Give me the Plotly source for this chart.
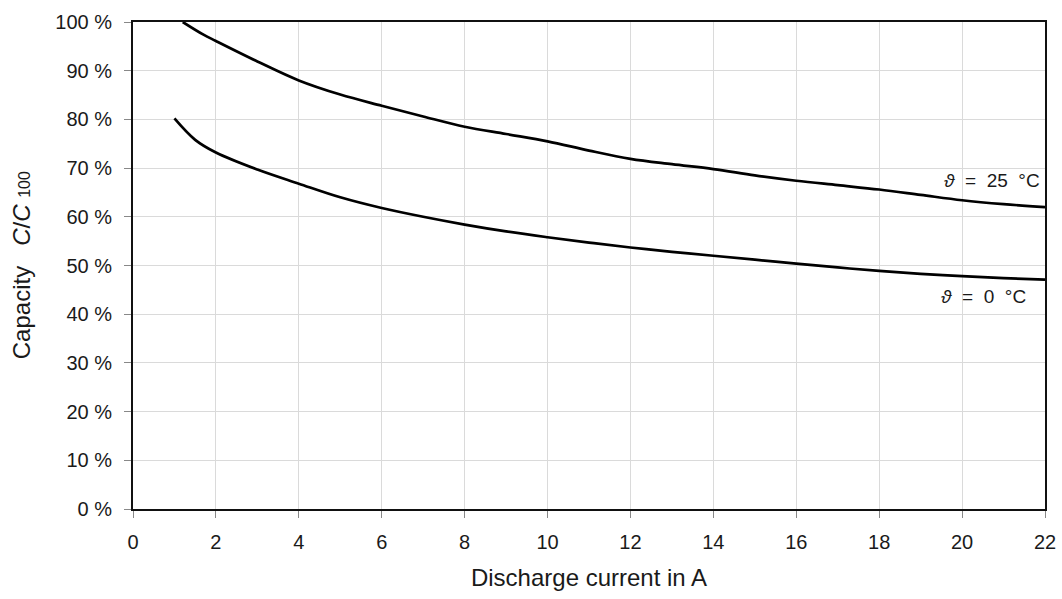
import plotly.graph_objects as go

# Data
current_25 = [1.2, 1.7, 2, 3, 4, 5, 6, 7, 8, 9, 10, 11, 12, 13, 14, 15, 16, 17, 18, 19, 20, 21, 22]
capacity_25 = [100.0, 97.4, 96.1, 91.9, 88.0, 85.1, 82.8, 80.6, 78.5, 77.0, 75.5, 73.6, 71.9, 70.8, 69.8, 68.5, 67.4, 66.5, 65.6, 64.5, 63.4, 62.6, 62.0]

current_0 = [1.0, 1.5, 2, 3, 4, 5, 6, 7, 8, 9, 10, 11, 12, 13, 14, 15, 16, 17, 18, 19, 20, 21, 22]
capacity_0 = [80.2, 75.8, 73.2, 69.7, 66.8, 64.0, 61.8, 60.0, 58.4, 57.0, 55.8, 54.7, 53.7, 52.8, 52.0, 51.2, 50.4, 49.6, 48.9, 48.3, 47.8, 47.4, 47.1]

x_ticks = [0, 2, 4, 6, 8, 10, 12, 14, 16, 18, 20, 22]
y_ticks = [0, 10, 20, 30, 40, 50, 60, 70, 80, 90, 100]
y_tick_labels = [f"{v} %" for v in y_ticks]

NB = "\u00a0"
label_25 = f"<i>ϑ</i>{NB}{NB}={NB}{NB}25{NB}{NB}°C"
label_0 = f"<i>ϑ</i>{NB}{NB}={NB}{NB}0{NB}{NB}°C"

FONT = "Liberation Sans, Arial, sans-serif"
TXT = "#1a1a1a"

fig = go.Figure()
fig.add_trace(go.Scatter(x=current_25, y=capacity_25, mode="lines",
                         line=dict(color="black", width=2.7, shape="spline", smoothing=1.0),
                         showlegend=False, hoverinfo="skip"))
fig.add_trace(go.Scatter(x=current_0, y=capacity_0, mode="lines",
                         line=dict(color="black", width=2.7, shape="spline", smoothing=1.0),
                         showlegend=False, hoverinfo="skip"))

fig.add_annotation(x=21.92, y=67.4, text=label_25, showarrow=False, xanchor="right", yanchor="middle",
                   font=dict(family=FONT, size=19, color=TXT))
fig.add_annotation(x=21.6, y=43.7, text=label_0, showarrow=False, xanchor="right", yanchor="middle",
                   font=dict(family=FONT, size=19, color=TXT))

fig.add_annotation(xref="paper", yref="paper", x=-0.122, y=0.5, xanchor="center", yanchor="middle",
                   textangle=-90, showarrow=False,
                   text="Capacity\u00a0\u00a0\u00a0<i>C</i>/<i>C</i> <span style='font-size:16px'>100</span>",
                   font=dict(family=FONT, size=24, color=TXT))

fig.update_layout(
    width=1062, height=599,
    margin=dict(l=133, r=17, t=22, b=90),
    paper_bgcolor="white", plot_bgcolor="white",
    font=dict(family=FONT, color=TXT),
    xaxis=dict(range=[0, 22], tickvals=x_ticks, ticktext=[str(v) for v in x_ticks],
               showgrid=True, gridcolor="#dadada", gridwidth=1,
               showline=True, linecolor="#111", linewidth=2, mirror=True,
               ticks="outside", ticklen=7, tickcolor="#888", tickwidth=1,
               tickfont=dict(family=FONT, size=20, color=TXT), ticklabelstandoff=7,
               zeroline=False, automargin=False,
               title=dict(text="Discharge current in A", font=dict(family=FONT, size=24, color=TXT), standoff=17)),
    yaxis=dict(range=[0, 100], tickvals=y_ticks, ticktext=y_tick_labels,
               showgrid=True, gridcolor="#dadada", gridwidth=1,
               showline=True, linecolor="#111", linewidth=2, mirror=True,
               ticks="outside", ticklen=7, tickcolor="#888", tickwidth=1,
               tickfont=dict(family=FONT, size=20, color=TXT), ticklabelstandoff=8,
               zeroline=False, automargin=False),
)

fig.write_html("out.html", config={"displayModeBar": False},
               post_script="document.body.style.margin='0';document.body.style.overflow='hidden';")
